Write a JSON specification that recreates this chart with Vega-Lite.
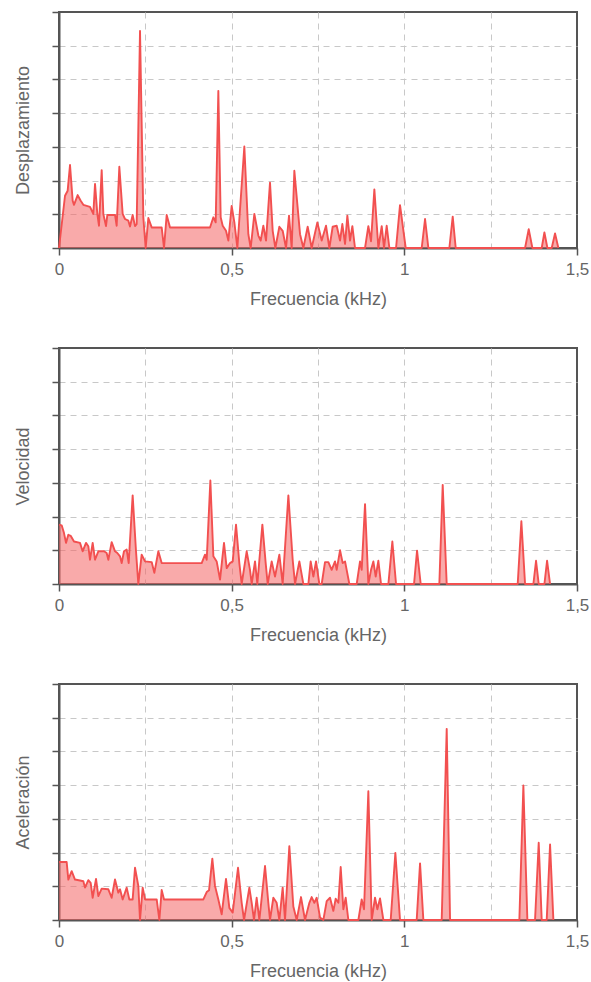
{
  "$schema": "https://vega.github.io/schema/vega-lite/v6.json",
  "padding": {"left": 13, "top": 10, "right": 5, "bottom": 5},
  "background": "white",
  "spacing": 37,
  "config": {
    "view": {"stroke": "#555", "strokeWidth": 2},
    "font": "Liberation Sans",
    "axis": {
      "domainColor": "#555", "domainWidth": 2,
      "tickColor": "#555", "tickWidth": 1.5, "tickSize": 7,
      "gridColor": "#c8c8c8", "gridDash": [6, 5], "gridWidth": 1,
      "labelFont": "Liberation Sans", "labelFontSize": 17, "labelColor": "#666", "labelFlush": false,
      "titleFont": "Liberation Sans", "titleFontSize": 18, "titleFontWeight": "normal", "titleColor": "#666",
      "zindex": 1
    }
  },
  "datasets": {
    "d1": [
      {"f":0,"v":0},{"f":0.0174,"v":1.55},{"f":0.0251,"v":1.7},{"f":0.0319,"v":2.46},{"f":0.0396,"v":1.4},{"f":0.0434,"v":1.28},{"f":0.0541,"v":1.57},{"f":0.0628,"v":1.4},{"f":0.0705,"v":1.28},{"f":0.0898,"v":1.22},{"f":0.0994,"v":1.01},{"f":0.1043,"v":1.9},{"f":0.111,"v":1.01},{"f":0.1158,"v":0.66},{"f":0.1236,"v":2.31},{"f":0.1284,"v":1.01},{"f":0.1361,"v":0.65},{"f":0.14,"v":0.98},{"f":0.1622,"v":0.98},{"f":0.167,"v":0.66},{"f":0.1747,"v":2.41},{"f":0.1844,"v":1.01},{"f":0.1911,"v":0.86},{"f":0.2008,"v":0.81},{"f":0.2056,"v":0.64},{"f":0.2133,"v":0.98},{"f":0.2201,"v":0.65},{"f":0.2249,"v":0.71},{"f":0.2346,"v":6.44},{"f":0.2442,"v":0.91},{"f":0.251,"v":0},{"f":0.2587,"v":0.89},{"f":0.2684,"v":0.61},{"f":0.2973,"v":0.61},{"f":0.3041,"v":0},{"f":0.3118,"v":0.98},{"f":0.3215,"v":0.61},{"f":0.4373,"v":0.61},{"f":0.447,"v":0.91},{"f":0.4537,"v":0.76},{"f":0.4614,"v":4.66},{"f":0.4682,"v":0.91},{"f":0.474,"v":0.66},{"f":0.4836,"v":0.51},{"f":0.4904,"v":0.22},{"f":0.5,"v":1.25},{"f":0.5078,"v":0.76},{"f":0.5165,"v":0},{"f":0.5367,"v":3.01},{"f":0.5483,"v":0.41},{"f":0.5551,"v":0},{"f":0.5657,"v":1.01},{"f":0.5773,"v":0.37},{"f":0.584,"v":0.22},{"f":0.5917,"v":0.66},{"f":0.5995,"v":0.22},{"f":0.611,"v":1.94},{"f":0.6188,"v":0.51},{"f":0.6265,"v":0},{"f":0.6381,"v":0.63},{"f":0.6477,"v":0.51},{"f":0.6574,"v":0},{"f":0.6661,"v":0.96},{"f":0.6738,"v":0},{"f":0.6815,"v":2.29},{"f":0.698,"v":0.41},{"f":0.7076,"v":0},{"f":0.7201,"v":0.63},{"f":0.7317,"v":0},{"f":0.7481,"v":0.76},{"f":0.7607,"v":0.22},{"f":0.7732,"v":0.66},{"f":0.7829,"v":0},{"f":0.7925,"v":0.63},{"f":0.8041,"v":0.66},{"f":0.8138,"v":0.22},{"f":0.8205,"v":0.71},{"f":0.8283,"v":0.12},{"f":0.835,"v":0.96},{"f":0.8427,"v":0.22},{"f":0.8495,"v":0.65},{"f":0.8572,"v":0},{"f":0.8862,"v":0},{"f":0.8958,"v":0.65},{"f":0.9036,"v":0.2},{"f":0.9132,"v":1.74},{"f":0.9248,"v":0},{"f":0.9345,"v":0.65},{"f":0.9412,"v":0},{"f":0.9489,"v":0.66},{"f":0.9567,"v":0},{"f":0.976,"v":0},{"f":0.9875,"v":1.27},{"f":1.004,"v":0},{"f":1.0503,"v":0},{"f":1.06,"v":0.86},{"f":1.0696,"v":0},{"f":1.1304,"v":0},{"f":1.1401,"v":0.93},{"f":1.1488,"v":0},{"f":1.3496,"v":0},{"f":1.3602,"v":0.56},{"f":1.3708,"v":0},{"f":1.3978,"v":0},{"f":1.4056,"v":0.46},{"f":1.4143,"v":0},{"f":1.4268,"v":0},{"f":1.4364,"v":0.43},{"f":1.4461,"v":0}
    ],
    "d2": [
      {"f":0,"v":1.76},{"f":0.0077,"v":1.74},{"f":0.0145,"v":1.51},{"f":0.0203,"v":1.22},{"f":0.027,"v":1.46},{"f":0.0338,"v":1.43},{"f":0.0434,"v":1.26},{"f":0.0608,"v":1.22},{"f":0.0685,"v":0.97},{"f":0.0782,"v":1.22},{"f":0.0849,"v":1.12},{"f":0.0898,"v":0.72},{"f":0.0975,"v":1.22},{"f":0.1043,"v":0.72},{"f":0.1139,"v":0.97},{"f":0.1303,"v":0.97},{"f":0.138,"v":0.92},{"f":0.1429,"v":0.72},{"f":0.1525,"v":1.24},{"f":0.1622,"v":0.97},{"f":0.1689,"v":0.92},{"f":0.1767,"v":0.82},{"f":0.1815,"v":0.62},{"f":0.1882,"v":0.97},{"f":0.196,"v":1.02},{"f":0.2018,"v":0.62},{"f":0.2133,"v":2.63},{"f":0.223,"v":0.97},{"f":0.2297,"v":0},{"f":0.2394,"v":0.87},{"f":0.2491,"v":0.67},{"f":0.2684,"v":0.65},{"f":0.2761,"v":0.33},{"f":0.2877,"v":0.97},{"f":0.2973,"v":0.62},{"f":0.4132,"v":0.62},{"f":0.4228,"v":0.87},{"f":0.4277,"v":0.72},{"f":0.4383,"v":3.07},{"f":0.447,"v":0.82},{"f":0.4566,"v":0.67},{"f":0.4663,"v":0.13},{"f":0.4778,"v":1.22},{"f":0.4856,"v":0.47},{"f":0.4952,"v":0.62},{"f":0.503,"v":0.67},{"f":0.5126,"v":1.76},{"f":0.5222,"v":0.62},{"f":0.529,"v":0},{"f":0.5435,"v":0.97},{"f":0.5531,"v":0.42},{"f":0.558,"v":0},{"f":0.5676,"v":0.67},{"f":0.5744,"v":0},{"f":0.5889,"v":1.76},{"f":0.5985,"v":0.62},{"f":0.6043,"v":0},{"f":0.6159,"v":0.67},{"f":0.6255,"v":0.22},{"f":0.6381,"v":0.87},{"f":0.6477,"v":0},{"f":0.6642,"v":2.63},{"f":0.6767,"v":0.72},{"f":0.6835,"v":0},{"f":0.696,"v":0.67},{"f":0.7076,"v":0},{"f":0.7221,"v":0},{"f":0.7288,"v":0.67},{"f":0.7366,"v":0.22},{"f":0.7443,"v":0.67},{"f":0.7539,"v":0},{"f":0.7607,"v":0},{"f":0.7703,"v":0.65},{"f":0.78,"v":0.65},{"f":0.7896,"v":0.42},{"f":0.7993,"v":0.67},{"f":0.8041,"v":0.42},{"f":0.8138,"v":1.0},{"f":0.8215,"v":0.62},{"f":0.8283,"v":0.67},{"f":0.8408,"v":0},{"f":0.8621,"v":0},{"f":0.8717,"v":0.67},{"f":0.8765,"v":0.42},{"f":0.8862,"v":2.37},{"f":0.8958,"v":0},{"f":0.9036,"v":0.42},{"f":0.9103,"v":0.67},{"f":0.9171,"v":0.22},{"f":0.9248,"v":0.69},{"f":0.9325,"v":0},{"f":0.9538,"v":0},{"f":0.9653,"v":1.26},{"f":0.976,"v":0},{"f":1.0281,"v":0},{"f":1.0368,"v":0.99},{"f":1.0474,"v":0},{"f":1.1014,"v":0},{"f":1.1111,"v":2.94},{"f":1.1227,"v":0},{"f":1.3283,"v":0},{"f":1.3389,"v":1.86},{"f":1.3496,"v":0},{"f":1.3737,"v":0},{"f":1.3814,"v":0.69},{"f":1.3891,"v":0},{"f":1.4056,"v":0},{"f":1.4133,"v":0.69},{"f":1.422,"v":0}
    ],
    "d3": [
      {"f":0,"v":1.72},{"f":0.0222,"v":1.72},{"f":0.027,"v":1.2},{"f":0.0367,"v":1.45},{"f":0.0463,"v":1.2},{"f":0.0608,"v":1.17},{"f":0.0705,"v":1.15},{"f":0.0753,"v":0.96},{"f":0.0849,"v":1.18},{"f":0.0917,"v":1.1},{"f":0.0975,"v":0.66},{"f":0.1072,"v":1.22},{"f":0.1139,"v":0.71},{"f":0.1236,"v":0.93},{"f":0.1429,"v":0.91},{"f":0.1525,"v":0.66},{"f":0.1622,"v":1.2},{"f":0.1718,"v":0.81},{"f":0.1767,"v":0.91},{"f":0.1844,"v":0.61},{"f":0.196,"v":0.96},{"f":0.2037,"v":0.61},{"f":0.2133,"v":0.61},{"f":0.2201,"v":1.55},{"f":0.2297,"v":1.01},{"f":0.2346,"v":0},{"f":0.2423,"v":0.96},{"f":0.2491,"v":0.61},{"f":0.2829,"v":0.61},{"f":0.2906,"v":0},{"f":0.2973,"v":0.89},{"f":0.3041,"v":0.61},{"f":0.418,"v":0.61},{"f":0.4277,"v":0.83},{"f":0.4344,"v":0.88},{"f":0.444,"v":1.82},{"f":0.4518,"v":1.01},{"f":0.4614,"v":0.61},{"f":0.4711,"v":0.17},{"f":0.4836,"v":1.22},{"f":0.4933,"v":0.36},{"f":0.503,"v":0.22},{"f":0.5184,"v":1.55},{"f":0.529,"v":0.51},{"f":0.5358,"v":0},{"f":0.5512,"v":0.96},{"f":0.558,"v":0.51},{"f":0.5647,"v":0},{"f":0.5724,"v":0.66},{"f":0.5802,"v":0},{"f":0.5966,"v":1.6},{"f":0.6062,"v":0.51},{"f":0.611,"v":0},{"f":0.6207,"v":0.66},{"f":0.6303,"v":0.51},{"f":0.6381,"v":0},{"f":0.6477,"v":0.96},{"f":0.6545,"v":0},{"f":0.667,"v":2.19},{"f":0.6786,"v":0.4},{"f":0.6883,"v":0},{"f":0.7008,"v":0.68},{"f":0.7124,"v":0},{"f":0.725,"v":0.51},{"f":0.7317,"v":0.68},{"f":0.7394,"v":0.51},{"f":0.7462,"v":0.66},{"f":0.7559,"v":0.07},{"f":0.7655,"v":0},{"f":0.7752,"v":0.56},{"f":0.7848,"v":0.66},{"f":0.7945,"v":0.27},{"f":0.8012,"v":0.63},{"f":0.809,"v":0.51},{"f":0.8157,"v":1.57},{"f":0.8234,"v":0.32},{"f":0.8302,"v":0.66},{"f":0.8379,"v":0},{"f":0.8669,"v":0},{"f":0.8765,"v":0.61},{"f":0.8833,"v":0.32},{"f":0.8958,"v":3.82},{"f":0.9055,"v":0},{"f":0.9151,"v":0.66},{"f":0.9219,"v":0.32},{"f":0.9296,"v":0.64},{"f":0.9393,"v":0},{"f":0.9605,"v":0},{"f":0.974,"v":1.99},{"f":0.9875,"v":0},{"f":1.0358,"v":0},{"f":1.0455,"v":1.68},{"f":1.0551,"v":0},{"f":1.1082,"v":0},{"f":1.1227,"v":5.67},{"f":1.1324,"v":0},{"f":1.3331,"v":0},{"f":1.3447,"v":3.99},{"f":1.3563,"v":0},{"f":1.3785,"v":0},{"f":1.3891,"v":2.29},{"f":1.3978,"v":0},{"f":1.4123,"v":0},{"f":1.422,"v":2.24},{"f":1.4316,"v":0}
    ]
  },
  "vconcat": [
    {
      "width": 518, "height": 236,
      "data": {"name": "d1"},
      "mark": {"type": "area", "color": "#f46464", "fillOpacity": 0.55, "line": {"color": "#f25050", "strokeWidth": 1.9, "strokeJoin": "round"}},
      "encoding": {
        "x": {"field": "f", "type": "quantitative", "scale": {"domain": [0, 1.5], "nice": false, "zero": false},
          "axis": {"title": "Frecuencia (kHz)", "values": [0, 0.25, 0.5, 0.75, 1, 1.25, 1.5],
            "labelExpr": "datum.value == 0 ? '0' : datum.value == 0.5 ? '0,5' : datum.value == 1 ? '1' : datum.value == 1.5 ? '1,5' : ''",
            "tickOpacity": {"condition": {"test": "datum.value % 0.5 == 0", "value": 1}, "value": 0},
            "gridOpacity": {"condition": {"test": "datum.value == 0 || datum.value == 1.5", "value": 0}, "value": 1},
            "labelPadding": 6, "titlePadding": 13}},
        "y": {"field": "v", "type": "quantitative", "scale": {"domain": [0, 7], "nice": false},
          "axis": {"title": "Desplazamiento", "values": [0, 1, 2, 3, 4, 5, 6, 7], "labels": false, "titlePadding": 19,
            "gridOpacity": {"condition": {"test": "datum.value == 0 || datum.value == 7", "value": 0}, "value": 1}}}
      }
    },
    {
      "width": 518, "height": 236,
      "data": {"name": "d2"},
      "mark": {"type": "area", "color": "#f46464", "fillOpacity": 0.55, "line": {"color": "#f25050", "strokeWidth": 1.9, "strokeJoin": "round"}},
      "encoding": {
        "x": {"field": "f", "type": "quantitative", "scale": {"domain": [0, 1.5], "nice": false, "zero": false},
          "axis": {"title": "Frecuencia (kHz)", "values": [0, 0.25, 0.5, 0.75, 1, 1.25, 1.5],
            "labelExpr": "datum.value == 0 ? '0' : datum.value == 0.5 ? '0,5' : datum.value == 1 ? '1' : datum.value == 1.5 ? '1,5' : ''",
            "tickOpacity": {"condition": {"test": "datum.value % 0.5 == 0", "value": 1}, "value": 0},
            "gridOpacity": {"condition": {"test": "datum.value == 0 || datum.value == 1.5", "value": 0}, "value": 1},
            "labelPadding": 6, "titlePadding": 13}},
        "y": {"field": "v", "type": "quantitative", "scale": {"domain": [0, 7], "nice": false},
          "axis": {"title": "Velocidad", "values": [0, 1, 2, 3, 4, 5, 6, 7], "labels": false, "titlePadding": 19,
            "gridOpacity": {"condition": {"test": "datum.value == 0 || datum.value == 7", "value": 0}, "value": 1}}}
      }
    },
    {
      "width": 518, "height": 236,
      "data": {"name": "d3"},
      "mark": {"type": "area", "color": "#f46464", "fillOpacity": 0.55, "line": {"color": "#f25050", "strokeWidth": 1.9, "strokeJoin": "round"}},
      "encoding": {
        "x": {"field": "f", "type": "quantitative", "scale": {"domain": [0, 1.5], "nice": false, "zero": false},
          "axis": {"title": "Frecuencia (kHz)", "values": [0, 0.25, 0.5, 0.75, 1, 1.25, 1.5],
            "labelExpr": "datum.value == 0 ? '0' : datum.value == 0.5 ? '0,5' : datum.value == 1 ? '1' : datum.value == 1.5 ? '1,5' : ''",
            "tickOpacity": {"condition": {"test": "datum.value % 0.5 == 0", "value": 1}, "value": 0},
            "gridOpacity": {"condition": {"test": "datum.value == 0 || datum.value == 1.5", "value": 0}, "value": 1},
            "labelPadding": 6, "titlePadding": 13}},
        "y": {"field": "v", "type": "quantitative", "scale": {"domain": [0, 7], "nice": false},
          "axis": {"title": "Aceleración", "values": [0, 1, 2, 3, 4, 5, 6, 7], "labels": false, "titlePadding": 19,
            "gridOpacity": {"condition": {"test": "datum.value == 0 || datum.value == 7", "value": 0}, "value": 1}}}
      }
    }
  ]
}
